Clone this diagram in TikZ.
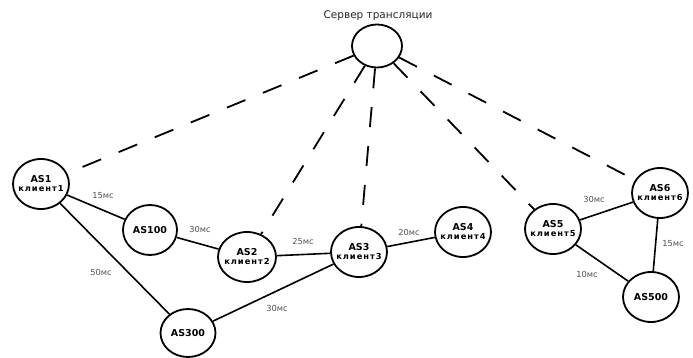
\documentclass[tikz,border=0pt]{standalone}
\usepackage{fontspec}
\setmainfont{DejaVu Sans}
\newfontfamily\clifont[LetterSpace=12]{DejaVu Sans}
\usetikzlibrary{shapes.geometric}
\definecolor{lblgray}{RGB}{80,80,80}
\newcommand{\cli}[1]{{\clifont\bfseries\fontsize{8.3}{9}\selectfont клиент#1}}

\begin{document}
\begin{tikzpicture}[x=1pt,y=-1pt,
as/.style={draw,ellipse,line width=1.8pt,inner xsep=-10pt,inner ysep=0pt,minimum width=56pt,minimum height=50pt,align=center,font=\bfseries\fontsize{9.5}{10}\selectfont},
link/.style={line width=1.6pt},
stream/.style={line width=1.8pt,dash pattern=on 20pt off 19pt},
ms/.style={font=\fontsize{8.3}{9}\selectfont,text=lblgray}]
\useasboundingbox (0,0) rectangle (693,358);
\node[draw,ellipse,line width=1.8pt,minimum width=50pt,minimum height=43pt] (srv) at (377,46) {};
\node[font=\fontsize{10.5}{11}\selectfont,text=black!85] (srvlbl) at (378,16) {Сервер трансляции};
\node[as] (as1) at (41,184) {AS1\\[-1pt]\cli{1}};
\node[as,minimum width=54pt] (as100) at (150,230) {AS100};
\node[as,minimum width=58pt] (as2) at (247,257) {AS2\\[-1pt]\cli{2}};
\node[as,minimum width=55pt,minimum height=48pt] (as300) at (188,333) {AS300};
\node[as] (as3) at (359,252) {AS3\\[-1pt]\cli{3}};
\node[as] (as4) at (463,232) {AS4\\[-1pt]\cli{4}};
\node[as] (as5) at (553,229) {AS5\\[-1pt]\cli{5}};
\node[as] (as6) at (660,193) {AS6\\[-1pt]\cli{6}};
\node[as] (as500) at (651,297) {AS500};
% links
\draw[link] (as1)--(as100);\draw[link] (as100)--(as2);\draw[link] (as2)--(as3);
\draw[link] (as3)--(as4);\draw[link] (as1)--(as300);\draw[link] (as300)--(as3);
\draw[link] (as5)--(as6);\draw[link] (as6)--(as500);\draw[link] (as5)--(as500);
% delays
\node[ms] (d1) at (103,196) {15мс};
\node[ms] (d2) at (200,229) {30мс};
\node[ms] (d3) at (303,241) {25мс};
\node[ms] (d4) at (409,232) {20мс};
\node[ms] (d5) at (101,272) {50мс};
\node[ms] (d6) at (277,308) {30мс};
\node[ms] (d7) at (594,199) {30мс};
\node[ms] (d8) at (673,244) {15мс};
\node[ms] (d9) at (587,274) {10мс};
% stream
\foreach \c in {as1,as2,as3,as5,as6} \draw[stream] (srv)--(\c);
\end{tikzpicture}
\end{document}
